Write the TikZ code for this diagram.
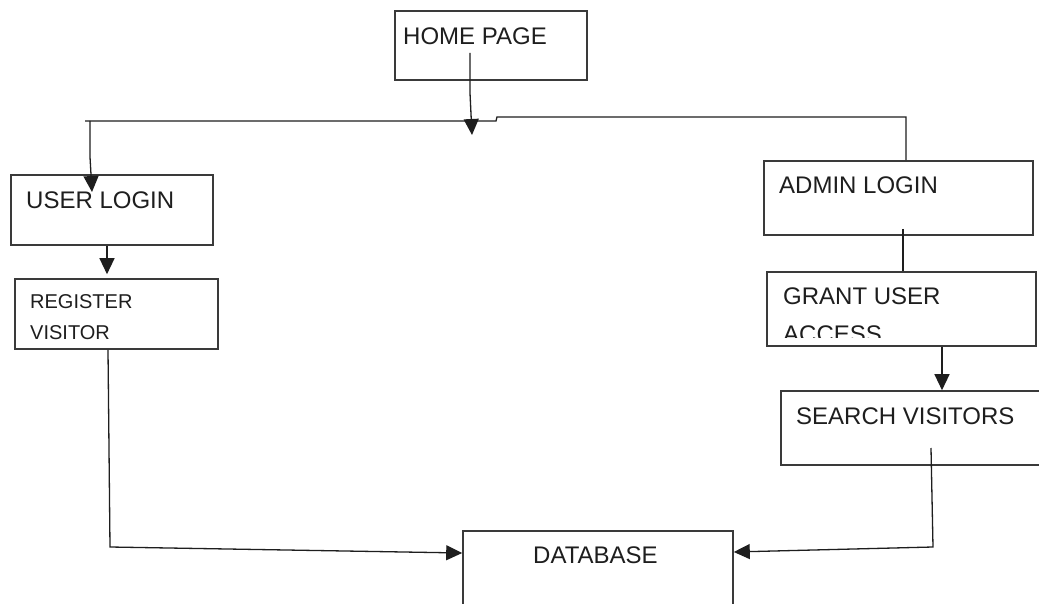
\documentclass[tikz,border=0pt]{standalone}
\usepackage{fontspec}
\setmainfont{Liberation Sans}
\usetikzlibrary{arrows.meta}
\definecolor{ink}{HTML}{1E1E1E}
\definecolor{edge}{HTML}{3A3A3A}
\tikzset{
  box/.style={draw=edge, line width=1.6pt, rectangle, inner sep=0pt},
  txt/.style={anchor=base west, inner sep=0pt, text=ink, font=\fontsize{24}{28}\selectfont},
  smalltxt/.style={anchor=base west, inner sep=0pt, text=ink, font=\fontsize{20}{24}\selectfont},
  wire/.style={draw=ink, line width=1.3pt},
  arr/.style={wire, -{Triangle[length=16pt,width=15pt]}},
}
\begin{document}
\begin{tikzpicture}[x=1pt,y=-1pt]
\useasboundingbox (0,0) rectangle (1039,604);
\clip (0,0) rectangle (1039,604);
\fill[white] (0,0) rectangle (1039,604);

% boxes
\node[box, minimum width=192pt, minimum height=69pt] (home) at (491,45.5) {};
\node[box, minimum width=202pt, minimum height=70pt] (user) at (112,210) {};
\node[box, minimum width=203pt, minimum height=70pt] (reg) at (116.5,314) {};
\node[box, minimum width=269pt, minimum height=74pt] (admin) at (898.5,198) {};
\node[box, minimum width=269pt, minimum height=74pt] (grant) at (901.5,309) {};
\node[box, minimum width=290pt, minimum height=74pt] (search) at (926,428) {};
\node[box, minimum width=270pt, minimum height=120pt] (db) at (598,591) {};

% texts
\node[txt] (homet) at (403,45) {HOME PAGE};
\node[txt] (usert) at (26,209) {USER LOGIN};
\node[smalltxt] (regt1) at (30,308) {REGISTER};
\node[smalltxt] (regt2) at (30,339) {VISITOR};
\node[txt] (admint) at (779,194) {ADMIN LOGIN};
\node[txt] (grantt1) at (783,305) {GRANT USER};
\begin{scope}
\clip (767,300) rectangle (1036,337);
\node[txt] (grantt2) at (783,342) {ACCESS};
\end{scope}
\node[txt] (searcht) at (796,424) {SEARCH VISITORS};
\node[txt] (dbt) at (533,563) {DATABASE};

% junction coordinates
\coordinate (hs) at (470,53);
\coordinate (ht) at (472,135);
\coordinate (bl) at (85,121);
\coordinate (bm) at (496,121);
\coordinate (br) at (906,117);
\coordinate (ut) at (92,192);
\coordinate (as) at (903,229);
\coordinate (ss) at (931,448);
\coordinate (sc) at (933,547);
\coordinate (rc) at (110,547);

% connectors
\draw[arr] (hs) -- (470,93) -- (ht);
\draw[wire] (bl) -- (bm) -- (497,117) -- (br) -- (br |- admin.north);
\draw[arr] (90,121) -- (90,157) -- (ut);
\draw[arr] (user.south -| 107,0) -- ([yshift=4pt]reg.north -| 107,0);
\draw[wire] (as) -- (grant.north -| as);
\draw[arr] (grant.south -| 942,0) -- (search.north -| 942,0);
\draw[arr] (reg.south -| 108,0) -- (rc) -- (db.west |- 0,553);
\draw[arr] (ss) -- (sc) -- (db.east |- 0,552);
\end{tikzpicture}
\end{document}
